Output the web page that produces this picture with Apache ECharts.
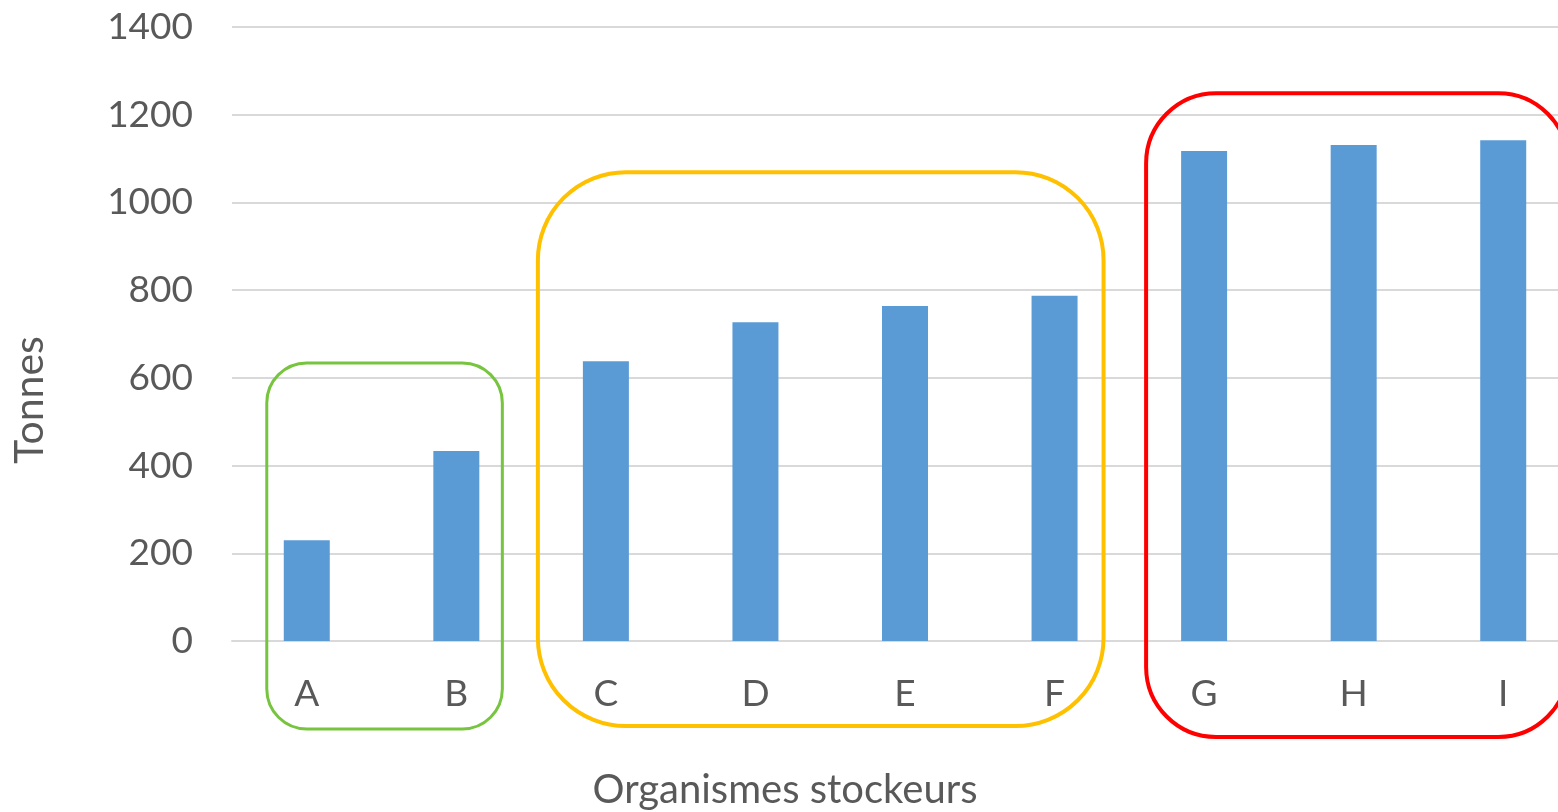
<!DOCTYPE html>
<html>
<head>
<meta charset="utf-8">
<title>Organismes stockeurs</title>
<script src="https://cdn.jsdelivr.net/npm/echarts@6/dist/echarts.min.js"></script>
<style>
  html, body { margin: 0; padding: 0; background: #fff; }
  #main { width: 1558px; height: 812px; }
</style>
</head>
<body>
<div id="main"></div>
<script>
  // données
  var categories = ['A', 'B', 'C', 'D', 'E', 'F', 'G', 'H', 'I'];
  var tonnes = [230, 433, 638, 727, 764, 787, 1117, 1131, 1142];
  var yMin = 0, yMax = 1400, yStep = 200;

  // regroupements encadrés (première et dernière catégorie)
  var groups = [['A', 'B'], ['C', 'F'], ['G', 'I']];

  // aspect des cadres : couleur, marges en px, haut en valeur de l'axe
  var boxLook = [
    { color: '#77c43f', padL: 40, padR: 46, top: 634, padB: 88, r: 40, w: 3 },
    { color: '#ffc000', padL: 68, padR: 49, top: 1069, padB: 85, r: 88, w: 4 },
    { color: '#ff0000', padL: 58, padR: 65, top: 1249, padB: 96, r: 70, w: 4 }
  ];

  var font = 'Lato, "Open Sans", sans-serif';
  var grey = '#595959';

  var chart = echarts.init(document.getElementById('main'));

  var option = {
    animation: false,
    grid: {
      left: 232,
      right: -20,
      top: 27,
      bottom: 171,
      containLabel: false,
      outerBoundsMode: 'none'
    },
    xAxis: {
      type: 'category',
      data: categories,
      axisLine: { show: true, lineStyle: { color: '#d9d9d9', width: 2 } },
      axisTick: { show: false },
      axisLabel: { color: grey, fontFamily: font, fontSize: 37, margin: 35 }
    },
    yAxis: {
      type: 'value',
      min: yMin,
      max: yMax,
      interval: yStep,
      axisLine: { show: false },
      axisTick: { show: false },
      axisLabel: {
        color: grey, fontFamily: font, fontSize: 37, margin: 39,
        formatter: function (v) { return String(v); }
      },
      splitLine: { lineStyle: { color: '#d9d9d9', width: 2 } }
    },
    series: [{
      name: 'Tonnes',
      type: 'bar',
      data: tonnes,
      barWidth: 46,
      itemStyle: { color: '#5b9bd5' }
    }]
  };

  chart.setOption(option);

  // cadres arrondis, placés avec les échelles du graphique
  var graphics = [];
  groups.forEach(function (g, i) {
    var b = boxLook[i];
    var pTop = chart.convertToPixel({ gridIndex: 0 }, [categories.indexOf(g[0]), b.top]);
    var pEnd = chart.convertToPixel({ gridIndex: 0 }, [categories.indexOf(g[1]), 0]);
    var x1 = pTop[0] - b.padL;
    var x2 = pEnd[0] + b.padR;
    var y1 = pTop[1];
    var y2 = pEnd[1] + b.padB;
    graphics.push({
      type: 'rect',
      z: 100,
      shape: { x: x1, y: y1, width: x2 - x1, height: y2 - y1, r: b.r },
      style: { fill: 'none', stroke: b.color, lineWidth: b.w }
    });
  });

  // titres des axes
  graphics.push({
    type: 'text',
    x: 30,
    y: 400,
    rotation: Math.PI / 2,
    style: {
      text: 'Tonnes',
      fill: grey,
      font: '41px ' + font,
      align: 'center',
      verticalAlign: 'middle'
    }
  });
  graphics.push({
    type: 'text',
    x: 785,
    y: 790,
    style: {
      text: 'Organismes stockeurs',
      fill: grey,
      font: '40px ' + font,
      align: 'center',
      verticalAlign: 'middle'
    }
  });

  chart.setOption({ graphic: graphics });
</script>
</body>
</html>
